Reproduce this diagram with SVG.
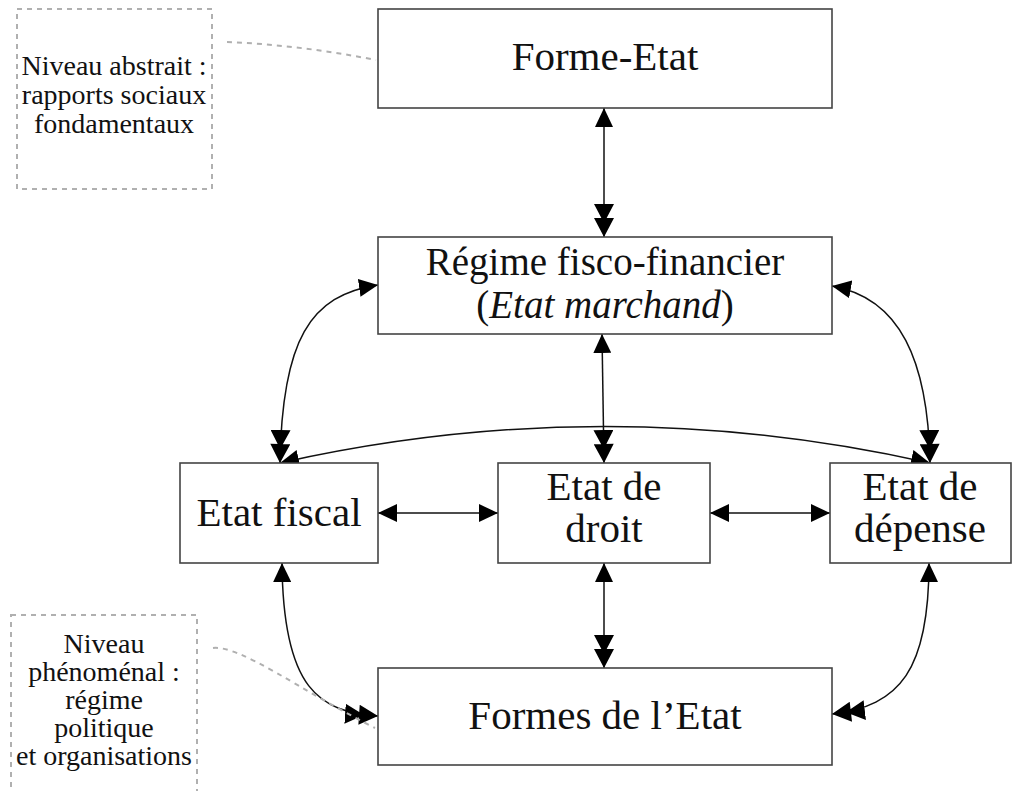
<svg xmlns="http://www.w3.org/2000/svg" width="1018" height="791" viewBox="0 0 1018 791">
<style>
.box{fill:#fff;stroke:#444;stroke-width:1.6}
.t{font-family:"Liberation Serif","Times New Roman",serif;font-size:41px;fill:#111;text-anchor:middle}
.t2{font-family:"Liberation Serif","Times New Roman",serif;font-size:39px;fill:#111;text-anchor:middle}
.n{font-family:"Liberation Serif","Times New Roman",serif;font-size:28px;fill:#111;text-anchor:middle}
.note{fill:none;stroke:#b0b0b0;stroke-width:2;stroke-dasharray:5 5}
.lead{fill:none;stroke:#b0b0b0;stroke-width:2;stroke-dasharray:5 5}
.c{fill:none;stroke:#111;stroke-width:1.5}
</style>
<defs>
<marker id="a1" markerUnits="userSpaceOnUse" markerWidth="20" markerHeight="18" refX="19" refY="9" orient="auto-start-reverse" viewBox="0 0 20 18">
<path d="M0,0 L19,9 L0,18 z" fill="#000"/>
</marker>
<marker id="a2" markerUnits="userSpaceOnUse" markerWidth="34" markerHeight="20" refX="33" refY="10" orient="auto-start-reverse" viewBox="0 0 34 20">
<path d="M0,0 L19,10 L0,20 z M14,0 L33,10 L14,20 z" fill="#000"/>
</marker>
</defs>

<g id="connectors">
<path class="c" d="M604,108 L604,237" marker-start="url(#a1)" marker-end="url(#a2)"/>
<path class="c" d="M602,334 L604,463" marker-start="url(#a1)" marker-end="url(#a2)"/>
<path class="c" d="M604,563 L604,668" marker-start="url(#a1)" marker-end="url(#a2)"/>
<path class="c" d="M378,513 L498,513" marker-start="url(#a1)" marker-end="url(#a1)"/>
<path class="c" d="M710,513 L830,513" marker-start="url(#a1)" marker-end="url(#a1)"/>
<path class="c" d="M378,285 C310,295 282,340 280,463" marker-start="url(#a1)" marker-end="url(#a2)"/>
<path class="c" d="M832,286 C900,298 928,360 930,463" marker-start="url(#a1)" marker-end="url(#a2)"/>
<path class="c" d="M280,463 Q605,390 930,463" marker-start="url(#a1)" marker-end="url(#a1)"/>
<path class="c" d="M282,563 C283,690 320,712 378,716" marker-start="url(#a1)" marker-end="url(#a2)"/>
<path class="c" d="M929,563 C929,670 900,706 832,714" marker-start="url(#a1)" marker-end="url(#a2)"/>
<path class="lead" d="M227,42 Q300,45 376,60"/>
<path class="lead" d="M213,648 C240,645 300,690 375,728"/>
</g>

<g id="forme-etat">
<rect class="box" x="378" y="9" width="454" height="99"/>
<text class="t" x="605" y="70">Forme-Etat</text>
</g>
<g id="regime">
<rect class="box" x="378" y="237" width="454" height="97"/>
<text class="t2" x="605" y="275">Régime fisco-financier</text>
<text class="t2" x="605" y="318">(<tspan font-style="italic">Etat marchand</tspan>)</text>
</g>
<g id="etat-fiscal">
<rect class="box" x="180" y="463" width="198" height="100"/>
<text class="t" x="279" y="526">Etat fiscal</text>
</g>
<g id="etat-droit">
<rect class="box" x="498" y="463" width="212" height="100"/>
<text class="t" x="604" y="500">Etat de</text>
<text class="t" x="604" y="542">droit</text>
</g>
<g id="etat-depense">
<rect class="box" x="830" y="463" width="181" height="100"/>
<text class="t" x="920" y="500">Etat de</text>
<text class="t" x="920" y="542">dépense</text>
</g>
<g id="formes-etat">
<rect class="box" x="378" y="668" width="454" height="97"/>
<text class="t" x="605" y="729">Formes de l’Etat</text>
</g>
<g id="note-abstrait">
<rect class="note" x="17" y="9" width="195" height="180"/>
<text class="n" x="114" y="75">Niveau abstrait :</text>
<text class="n" x="114" y="104">rapports sociaux</text>
<text class="n" x="114" y="133">fondamentaux</text>
</g>
<g id="note-phenomenal">
<rect class="note" x="11" y="615" width="186" height="190"/>
<text class="n" x="104" y="653">Niveau</text>
<text class="n" x="104" y="681">phénoménal :</text>
<text class="n" x="104" y="709">régime</text>
<text class="n" x="104" y="737">politique</text>
<text class="n" x="104" y="765">et organisations</text>
</g>
</svg>
